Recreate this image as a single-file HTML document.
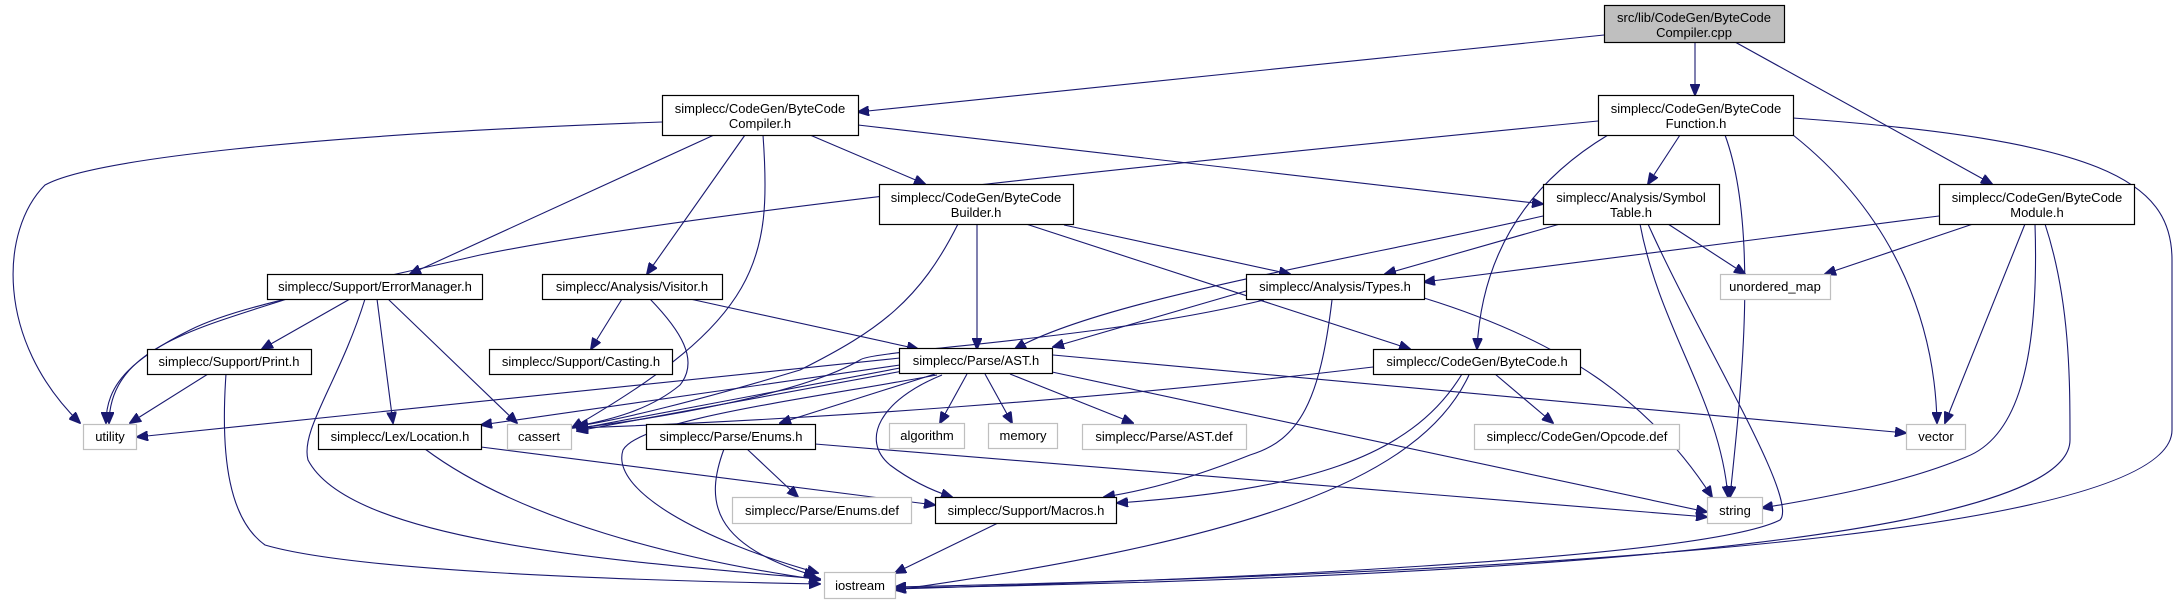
<!DOCTYPE html>
<html><head><meta charset="utf-8"><style>
html,body{margin:0;padding:0;background:#fff;}
svg{display:block;}
text{font-family:"Liberation Sans",Arial,sans-serif;font-size:13px;fill:#000;text-anchor:middle;}
.e{fill:none;stroke:#191970;stroke-width:1.1;}
.n{fill:#fff;stroke:#000;stroke-width:1.2;}
.g{fill:#fff;stroke:#bfbfbf;stroke-width:1.2;}
</style></head><body>
<svg width="2179" height="604" viewBox="0 0 2179 604" xmlns="http://www.w3.org/2000/svg">
<defs>
<marker id="a" markerWidth="12" markerHeight="10" refX="11" refY="5" orient="auto" markerUnits="userSpaceOnUse">
<path d="M0,0 L12,5 L0,10 Z" fill="#191970" stroke="#191970"/>
</marker>
</defs>
<g marker-end="url(#a)">
<!-- root -->
<path class="e" d="M1604,35 L858,112"/>
<path class="e" d="M1695,42 L1695,95"/>
<path class="e" d="M1735,42 L1992,184"/>
<!-- Compiler.h -->
<path class="e" d="M662,122 C300,135 90,160 45,185 C0,230 -5,340 80,423"/>
<path class="e" d="M714,135 L410,274"/>
<path class="e" d="M745,135 L647,274"/>
<path class="e" d="M763,135 C772,260 760,320 572,428"/>
<path class="e" d="M810,135 L925,184"/>
<path class="e" d="M858,125 L1543,204"/>
<!-- Function.h -->
<path class="e" d="M1598,121 C1200,160 700,210 480,255 C330,290 240,305 190,330 C130,360 106,385 106,423"/>
<path class="e" d="M1680,135 L1648,184"/>
<path class="e" d="M1608,135 C1500,200 1480,290 1477,349"/>
<path class="e" d="M1725,135 C1760,230 1740,400 1730,497"/>
<path class="e" d="M1793,135 C1900,220 1935,330 1937,423"/>
<path class="e" d="M1793,118 C2100,140 2172,180 2172,260 L2172,430 C2172,520 1700,570 895,587"/>
<!-- Module.h -->
<path class="e" d="M1939,216 L1424,282"/>
<path class="e" d="M1973,224 L1825,274"/>
<path class="e" d="M2025,224 L1945,423"/>
<path class="e" d="M2035,224 C2040,380 2010,440 1966,457 C1900,485 1810,500 1762,508"/>
<path class="e" d="M2045,224 C2070,300 2070,380 2070,440 C2070,520 1700,575 895,588"/>
<!-- SymbolTable.h -->
<path class="e" d="M1543,216 C1350,260 1100,300 1015,349"/>
<path class="e" d="M1560,224 L1385,274"/>
<path class="e" d="M1668,224 L1745,274"/>
<path class="e" d="M1640,224 C1660,330 1720,400 1728,497"/>
<path class="e" d="M1648,224 C1700,340 1800,500 1780,520 C1700,560 1200,580 895,589"/>
<!-- Builder.h -->
<path class="e" d="M958,224 C920,300 880,330 800,370 C700,400 620,420 577,426"/>
<path class="e" d="M977,224 L977,349"/>
<path class="e" d="M1064,225 L1290,274"/>
<path class="e" d="M1026,224 L1410,349"/>
<!-- ErrorManager.h -->
<path class="e" d="M287,299 C190,330 110,350 109,423"/>
<path class="e" d="M350,299 L262,349"/>
<path class="e" d="M365,299 C340,380 300,430 308,460 C350,540 600,560 820,579"/>
<path class="e" d="M377,299 L393,423"/>
<path class="e" d="M388,299 L517,423"/>
<!-- Visitor.h -->
<path class="e" d="M622,299 L591,349"/>
<path class="e" d="M650,299 C680,330 700,360 680,385 C650,410 610,420 577,426"/>
<path class="e" d="M690,299 L918,349"/>
<!-- Types.h -->
<path class="e" d="M1246,291 L1053,347"/>
<path class="e" d="M1264,300 C1100,340 870,350 860,360 C800,395 650,420 577,428"/>
<path class="e" d="M1332,300 C1320,400 1300,440 1250,455 C1200,475 1150,490 1104,497"/>
<path class="e" d="M1424,298 C1560,340 1650,400 1712,497"/>
<!-- AST.h -->
<path class="e" d="M900,358 L137,437"/>
<path class="e" d="M900,365 L481,425"/>
<path class="e" d="M900,368 L577,429"/>
<path class="e" d="M903,371 L577,431"/>
<path class="e" d="M937,375 C800,400 640,420 623,450 C610,490 700,540 818,573"/>
<path class="e" d="M935,374 L780,423"/>
<path class="e" d="M967,374 L940,423"/>
<path class="e" d="M985,374 L1012,423"/>
<path class="e" d="M1010,374 L1133,423"/>
<path class="e" d="M942,375 C880,400 860,440 890,465 C910,480 930,490 952,497"/>
<path class="e" d="M1052,372 L1707,512"/>
<path class="e" d="M1053,355 L1906,433"/>
<!-- ByteCode.h -->
<path class="e" d="M1373,367 C1100,400 800,420 577,428"/>
<path class="e" d="M1495,374 L1553,423"/>
<path class="e" d="M1462,374 C1410,460 1300,490 1117,503"/>
<path class="e" d="M1469,375 C1420,480 1250,540 895,590"/>
<!-- Enums.h -->
<path class="e" d="M815,444 L1707,517"/>
<path class="e" d="M747,449 L798,497"/>
<path class="e" d="M724,449 C705,500 710,545 815,576"/>
<!-- Location.h -->
<path class="e" d="M481,447 L935,505"/>
<path class="e" d="M425,449 C520,520 680,560 820,580"/>
<!-- Print.h -->
<path class="e" d="M208,374 L130,423"/>
<path class="e" d="M226,374 C220,460 230,520 265,545 C350,570 600,580 820,584"/>
<!-- Macros.h -->
<path class="e" d="M998,523 L895,573"/>
</g>
<!-- nodes -->
<rect x="1604.5" y="5.5" width="180" height="37" fill="#bfbfbf" stroke="#000" stroke-width="1.2"/>
<text x="1694" y="22">src/lib/CodeGen/ByteCode</text><text x="1694" y="37">Compiler.cpp</text>

<rect class="n" x="662.5" y="95.5" width="196" height="40"/>
<text x="760" y="113">simplecc/CodeGen/ByteCode</text><text x="760" y="128">Compiler.h</text>

<rect class="n" x="1598.5" y="95.5" width="195" height="40"/>
<text x="1696" y="113">simplecc/CodeGen/ByteCode</text><text x="1696" y="128">Function.h</text>

<rect class="n" x="879.5" y="184.5" width="194" height="40"/>
<text x="976" y="202">simplecc/CodeGen/ByteCode</text><text x="976" y="217">Builder.h</text>

<rect class="n" x="1543.5" y="184.5" width="176" height="40"/>
<text x="1631" y="202">simplecc/Analysis/Symbol</text><text x="1631" y="217">Table.h</text>

<rect class="n" x="1939.5" y="184.5" width="195" height="40"/>
<text x="2037" y="202">simplecc/CodeGen/ByteCode</text><text x="2037" y="217">Module.h</text>

<rect class="n" x="267.5" y="274.5" width="215" height="25"/>
<text x="375" y="291">simplecc/Support/ErrorManager.h</text>

<rect class="n" x="542.5" y="274.5" width="180" height="25"/>
<text x="632" y="291">simplecc/Analysis/Visitor.h</text>

<rect class="n" x="1246.5" y="274.5" width="178" height="25"/>
<text x="1335" y="291">simplecc/Analysis/Types.h</text>

<rect class="g" x="1720.5" y="274.5" width="110" height="25"/>
<text x="1775" y="291">unordered_map</text>

<rect class="n" x="147.5" y="349.5" width="164" height="25"/>
<text x="229" y="366">simplecc/Support/Print.h</text>

<rect class="n" x="489.5" y="349.5" width="183" height="25"/>
<text x="581" y="366">simplecc/Support/Casting.h</text>

<rect class="n" x="899.5" y="348.5" width="153" height="25"/>
<text x="976" y="365">simplecc/Parse/AST.h</text>

<rect class="n" x="1373.5" y="349.5" width="207" height="25"/>
<text x="1477" y="366">simplecc/CodeGen/ByteCode.h</text>

<rect class="g" x="83.5" y="424.5" width="53" height="25"/>
<text x="110" y="441">utility</text>

<rect class="n" x="318.5" y="424.5" width="163" height="25"/>
<text x="400" y="441">simplecc/Lex/Location.h</text>

<rect class="g" x="507.5" y="424.5" width="64" height="25"/>
<text x="539" y="441">cassert</text>

<rect class="n" x="646.5" y="424.5" width="169" height="25"/>
<text x="731" y="441">simplecc/Parse/Enums.h</text>

<rect class="g" x="889.5" y="423.5" width="75" height="25"/>
<text x="927" y="440">algorithm</text>

<rect class="g" x="988.5" y="423.5" width="69" height="25"/>
<text x="1023" y="440">memory</text>

<rect class="g" x="1082.5" y="424.5" width="164" height="25"/>
<text x="1164" y="441">simplecc/Parse/AST.def</text>

<rect class="g" x="1474.5" y="424.5" width="205" height="25"/>
<text x="1577" y="441">simplecc/CodeGen/Opcode.def</text>

<rect class="g" x="1906.5" y="424.5" width="59" height="25"/>
<text x="1936" y="441">vector</text>

<rect class="g" x="732.5" y="497.5" width="179" height="26"/>
<text x="822" y="515">simplecc/Parse/Enums.def</text>

<rect class="n" x="935.5" y="497.5" width="181" height="26"/>
<text x="1026" y="515">simplecc/Support/Macros.h</text>

<rect class="g" x="1707.5" y="497.5" width="55" height="26"/>
<text x="1735" y="515">string</text>

<rect class="g" x="824.5" y="572.5" width="71" height="26"/>
<text x="860" y="590">iostream</text>
</svg>
</body></html>
